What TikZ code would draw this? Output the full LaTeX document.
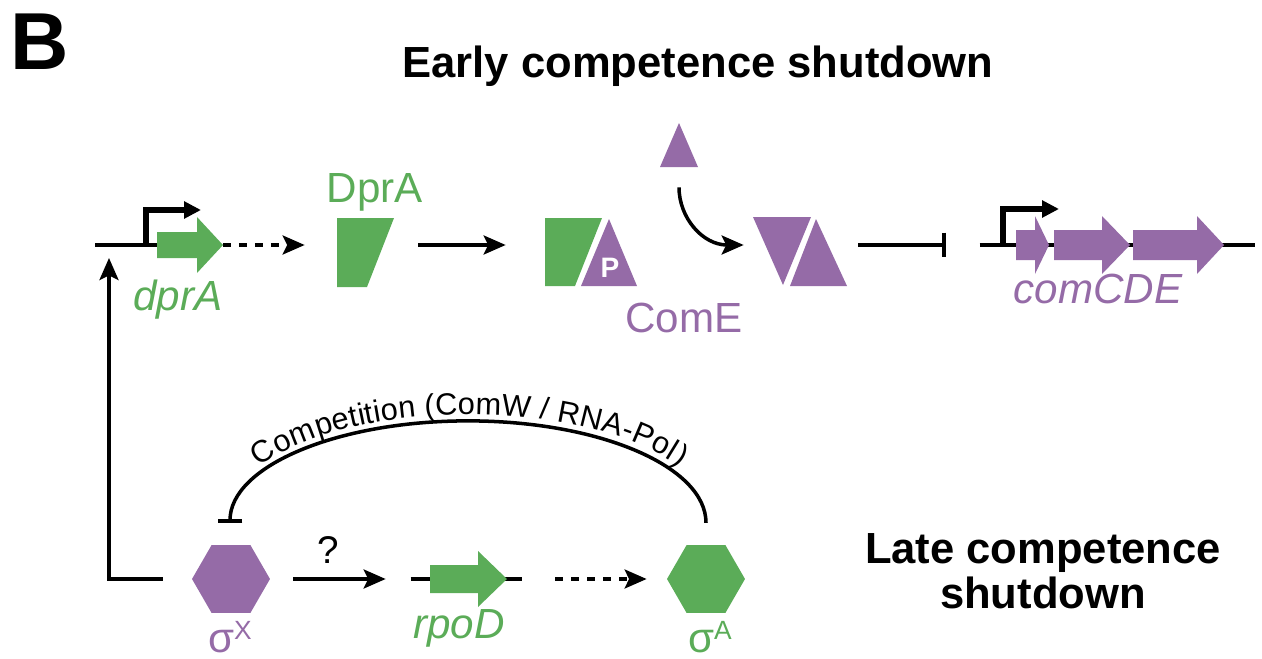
\documentclass[tikz,border=0pt]{standalone}
\usepackage{fontspec}
\setmainfont{Liberation Sans}
\usepackage{tikz}
\usetikzlibrary{arrows.meta,shapes.geometric,decorations.text,positioning}
\definecolor{comgreen}{RGB}{91,172,88}
\definecolor{compurple}{RGB}{149,107,167}
\tikzset{
    dna/.style={
           draw=black, line width=2.2pt,
           },
}
\tikzset{
    promoter/.style={
           draw=black, line width=3pt,
           -{Triangle[length=0.34cm,width=0.33cm]},
           },
}
\tikzset{
    act/.style={
           draw=black, line width=2pt,
           -{Stealth[length=0.44cm,width=0.38cm,inset=0.09cm]},
           },
}
\tikzset{
    dotact/.style={
           act,
           dash pattern=on 0.16cm off 0.16cm,
           },
}
\tikzset{
    inhib/.style={
           draw=black, line width=2pt,
           -{Bar[width=0.5cm]},
           },
}
\tikzset{
    box/.style={
           rectangle, inner sep=0pt,
           minimum height=1.4cm,
           },
}
\tikzset{
    hexa/.style={
           regular polygon, regular polygon sides=6,
           minimum size=1.56cm, inner sep=0pt,
           },
}
\tikzset{
    headline/.style={
           font=\fontsize{24.8}{24.8}\selectfont\bfseries,
           inner sep=0pt, anchor=base,
           },
}
\tikzset{
    protname/.style={
           font=\fontsize{24}{24}\selectfont,
           inner sep=0pt, anchor=base,
           },
}
\tikzset{
    genename/.style={
           font=\fontsize{24}{24}\selectfont\itshape,
           inner sep=0pt, anchor=base,
           },
}

\begin{document}
\begin{tikzpicture}[x=0.02cm,y=-0.02cm]
\useasboundingbox (0,0) rectangle (1262,659);

% headings
\node[headline,font=\fontsize{46}{46}\selectfont\bfseries](panel) at (40,70){B};
\node[headline](early) at (698,77){Early competence shutdown};
\node[headline](late1) at (1043,563){Late competence};
\node[headline](late2) at (1043,608){shutdown};

% early shutdown: dprA gene
\coordinate (prom) at (109,245);
\draw[dna] (95,245) -- (157,245);
\draw[promoter] (146,245) -- (146,210) -- (201,210);
\fill[comgreen] (157,232) -- (197,232) -- (197,217) -- (223,245) -- (197,273) -- (197,258) -- (157,258) -- cycle;
\coordinate (dpraend) at (223,245);
\node[genename,text=comgreen](dpragene) at (178,310){dprA};

% DprA, DprA-ComE~P, ComE dimer
\node[box,minimum width=1.14cm](dpra) at (365.5,245){};
\fill[comgreen] (337,218) -- (394,218) -- (367,287) -- (337,287) -- cycle;
\node[protname,text=comgreen](dpralab) at (375,202){DprA};

\node[box,minimum width=1.84cm](complex) at (591,245){};
\fill[comgreen] (545,218) -- (602,218) -- (575,286) -- (545,286) -- cycle;
\fill[compurple] (609,219) -- (637,286) -- (581,286) -- cycle;
\node[text=white,inner sep=0pt,font=\fontsize{16}{16}\selectfont\bfseries](phos) at (610,268){P};
\node[protname,text=compurple](comelab) at (684,332){ComE};

\node[box,minimum width=0.76cm,minimum height=0.88cm](comefree) at (679,145){};
\fill[compurple] (679,123) -- (698,167) -- (660,167) -- cycle;

\node[box,minimum width=1.88cm](dimer) at (800,245){};
\fill[compurple] (753,217) -- (811,217) -- (783,285) -- cycle;
\fill[compurple] (816,219) -- (847,286) -- (790,286) -- cycle;

% comCDE operon
\node[box,minimum width=5.5cm](comcde) at (1117.5,245){};
\draw[dna] (comcde.west) -- (comcde.east);
\draw[promoter] (1003,245) -- (1003,209) -- (1059,209);
\fill[compurple] (1016,230) -- (1035,230) -- (1035,216) -- (1049,245) -- (1035,274) -- (1035,260) -- (1016,260) -- cycle;
\fill[compurple] (1054,230) -- (1102,230) -- (1102,216) -- (1130,245) -- (1102,274) -- (1102,260) -- (1054,260) -- cycle;
\fill[compurple] (1133,230) -- (1197,230) -- (1197,216) -- (1224,245) -- (1197,274) -- (1197,260) -- (1133,260) -- cycle;
\node[genename,text=compurple](comcdelab) at (1098,303){comCDE};

\draw[dotact] (dpraend) -- ([xshift=-0.64cm]dpraend -| dpra.west);
\path (dpra) edge[act,shorten <=0.48cm,shorten >=0.78cm] (complex);
\draw[act,shorten <=0.4cm,shorten >=0.18cm] (comefree.south) to[out=-90,in=180,looseness=1.2] (dimer.west);
\path (dimer) edge[inhib,shorten <=0.22cm,shorten >=0.68cm] (comcde);

% late shutdown
\node[hexa,fill=compurple](sigx) at (231,579){};
\node[protname,text=compurple](sigxlab) at (230,652){σ\raisebox{0.26cm}{\fontsize{15}{15}\selectfont X}};
\node[box,minimum width=2.22cm](rpod) at (466.5,579){};
\draw[dna] (rpod.west) -- (rpod.east);
\fill[comgreen] (430,565) -- (478,565) -- (478,551) -- (507,579) -- (478,607) -- (478,593) -- (430,593) -- cycle;
\node[genename,text=comgreen](rpodlab) at (459,638){rpoD};
\node[hexa,fill=comgreen](siga) at (706,579){};
\node[protname,text=comgreen](sigalab) at (710,652){σ\raisebox{0.26cm}{\fontsize{15}{15}\selectfont A}};

\path (sigx) edge[act,shorten <=0.46cm,shorten >=0.5cm] (rpod);
\node[protname,font=\fontsize{22}{22}\selectfont](query) at (328,563){?};
\path (rpod) edge[dotact,shorten <=0.66cm,shorten >=0.4cm] (siga);
\draw[act,shorten <=0.58cm,shorten >=0.26cm] (sigx.west) -| (prom);

% competition for RNA polymerase
\draw[inhib] ([yshift=0.44cm]siga.north) arc[start angle=0,end angle=-180,x radius=238,y radius=102];
\path[decorate,decoration={text along path,text align=center,raise=0.13cm,
      text={|\fontsize{17.5}{17.5}\selectfont|Competition (ComW / RNA-Pol)}}]
      ([yshift=0.44cm]sigx.north) arc[start angle=180,end angle=360,x radius=238,y radius=102];
\end{tikzpicture}
\end{document}
